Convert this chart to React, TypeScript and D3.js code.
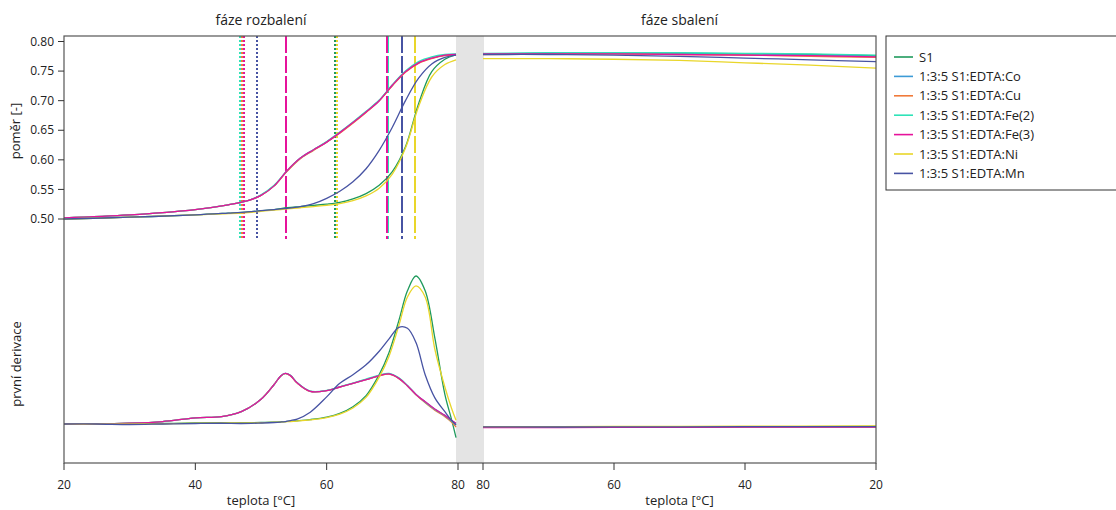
import React from "react";
import * as d3 from "d3";

// heating (fáze rozbalení) – ratio
const heatT = [20, 30, 40, 45, 48, 50, 52, 54, 56, 58, 60, 62, 64, 66, 68, 70, 72, 74, 76, 78, 79.7];
const s1Heat = [0.5, 0.503, 0.507, 0.51, 0.512, 0.514, 0.516, 0.519, 0.521, 0.523, 0.525, 0.528, 0.534, 0.543, 0.557, 0.58, 0.622, 0.695, 0.749, 0.77, 0.778];
const coHeat = [0.502, 0.507, 0.516, 0.524, 0.531, 0.54, 0.556, 0.582, 0.603, 0.617, 0.63, 0.646, 0.663, 0.681, 0.7, 0.726, 0.749, 0.764, 0.772, 0.777, 0.778];
const cuHeat = [0.502, 0.507, 0.516, 0.524, 0.531, 0.54, 0.556, 0.581, 0.602, 0.616, 0.63, 0.645, 0.662, 0.68, 0.7, 0.725, 0.748, 0.763, 0.771, 0.776, 0.777];
const fe2Heat = [0.502, 0.507, 0.516, 0.524, 0.531, 0.541, 0.557, 0.582, 0.603, 0.617, 0.631, 0.647, 0.664, 0.682, 0.701, 0.727, 0.75, 0.766, 0.774, 0.778, 0.779];
const fe3Heat = [0.502, 0.507, 0.516, 0.524, 0.531, 0.54, 0.556, 0.582, 0.603, 0.617, 0.63, 0.646, 0.663, 0.681, 0.7, 0.726, 0.749, 0.764, 0.772, 0.777, 0.778];
const niHeat = [0.5, 0.503, 0.507, 0.509, 0.511, 0.513, 0.515, 0.517, 0.519, 0.521, 0.523, 0.526, 0.531, 0.539, 0.552, 0.576, 0.62, 0.69, 0.74, 0.761, 0.769];
const mnHeat = [0.5, 0.503, 0.507, 0.51, 0.512, 0.514, 0.516, 0.518, 0.521, 0.526, 0.535, 0.547, 0.563, 0.585, 0.616, 0.655, 0.7, 0.738, 0.762, 0.773, 0.777];

// cooling (fáze sbalení) – ratio
const coolT = [80, 70, 60, 50, 40, 30, 20];
const s1Cool = [0.779, 0.78, 0.78, 0.78, 0.779, 0.778, 0.776];
const coCool = [0.779, 0.78, 0.78, 0.779, 0.778, 0.777, 0.775];
const cuCool = [0.778, 0.779, 0.779, 0.778, 0.777, 0.775, 0.773];
const fe2Cool = [0.78, 0.781, 0.781, 0.781, 0.78, 0.779, 0.777];
const fe3Cool = [0.779, 0.779, 0.779, 0.778, 0.777, 0.776, 0.774];
const niCool = [0.771, 0.771, 0.77, 0.768, 0.764, 0.76, 0.755];
const mnCool = [0.778, 0.778, 0.777, 0.775, 0.772, 0.769, 0.766];

// first derivative, heating
const derT = [20, 25, 30, 35, 40, 44, 47, 50, 52, 53, 53.7, 54.5, 55.5, 57.5, 60, 62, 64, 66, 68, 69.5, 71, 72.3, 73.6, 75, 76.5, 78, 79, 79.7];
const s1Der = [0, 0, 0, 0.0002, 0.0004, 0.0005, 0.0005, 0.0006, 0.0008, 0.0009, 0.001, 0.0011, 0.0013, 0.0018, 0.0028, 0.0043, 0.007, 0.0115, 0.02, 0.029, 0.042, 0.054, 0.06, 0.054, 0.0345, 0.012, 0.002, -0.0055];
const coDer = [0, 0, 0.0003, 0.001, 0.0025, 0.003, 0.005, 0.01, 0.016, 0.0195, 0.0205, 0.0196, 0.0167, 0.0132, 0.0135, 0.015, 0.0165, 0.018, 0.0196, 0.0203, 0.0185, 0.0155, 0.012, 0.009, 0.006, 0.0035, 0.0015, 0.0002];
const cuDer = [0, 0, 0.0003, 0.001, 0.0025, 0.003, 0.005, 0.01, 0.016, 0.0194, 0.0204, 0.0195, 0.0166, 0.0132, 0.0135, 0.015, 0.0165, 0.018, 0.0195, 0.0202, 0.0184, 0.0154, 0.0118, 0.0086, 0.0055, 0.003, 0.0008, -0.0012];
const fe2Der = [0, 0, 0.0003, 0.001, 0.0025, 0.003, 0.005, 0.01, 0.016, 0.0195, 0.0205, 0.0197, 0.0168, 0.0133, 0.0136, 0.0151, 0.0166, 0.0182, 0.0198, 0.0205, 0.0187, 0.0156, 0.012, 0.0088, 0.0058, 0.0033, 0.0012, -0.0002];
const fe3Der = [0, 0, 0.0003, 0.001, 0.0025, 0.003, 0.005, 0.01, 0.016, 0.0195, 0.0205, 0.0196, 0.0167, 0.0132, 0.0135, 0.015, 0.0165, 0.018, 0.0196, 0.0203, 0.0185, 0.0155, 0.012, 0.009, 0.006, 0.0035, 0.0015, 0.0003];
const niDer = [0, 0, 0, 0.0001, 0.0003, 0.0004, 0.0004, 0.0005, 0.0007, 0.0008, 0.0009, 0.001, 0.0012, 0.0017, 0.0026, 0.004, 0.0065, 0.0108, 0.019, 0.0275, 0.04, 0.0515, 0.056, 0.0515, 0.03, 0.015, 0.0065, 0.0015];
const mnDer = [0, 0, -0.0002, 0, 0.0002, 0.0003, 0.0002, 0.0004, 0.0006, 0.0008, 0.001, 0.0014, 0.002, 0.0048, 0.011, 0.0165, 0.02, 0.024, 0.0295, 0.0345, 0.0392, 0.0388, 0.033, 0.02, 0.0105, 0.005, 0.0015, -0.0004];

// first derivative, cooling
const coolDerT = [80, 60, 40, 20];
const s1CoolDer = [-0.0012, -0.0012, -0.0011, -0.001];
const coCoolDer = [-0.0012, -0.0012, -0.0011, -0.0011];
const cuCoolDer = [-0.0013, -0.0013, -0.0012, -0.0012];
const fe2CoolDer = [-0.0012, -0.0012, -0.0011, -0.0011];
const fe3CoolDer = [-0.0015, -0.0014, -0.0013, -0.0013];
const niCoolDer = [-0.0011, -0.001, -0.0009, -0.0008];
const mnCoolDer = [-0.0012, -0.0012, -0.0011, -0.0011];

// onset (dotted) and midpoint (dashed) temperatures
const onsetT = [61.2, 46.95, 47.15, 46.8, 47.35, 61.5, 49.35];
const tmT = [[73.5], [53.8, 69.2], [53.8, 69.2], [53.8, 69.4], [53.8, 69.15], [73.5], [71.45]];

const names = ["S1", "1:3:5 S1:EDTA:Co", "1:3:5 S1:EDTA:Cu", "1:3:5 S1:EDTA:Fe(2)", "1:3:5 S1:EDTA:Fe(3)", "1:3:5 S1:EDTA:Ni", "1:3:5 S1:EDTA:Mn"];
const colors = ["#1f9a5c", "#3d9bd6", "#f07a3a", "#2ee3b8", "#e6139b", "#e9d62a", "#4753a3"];

const heatSeries = [s1Heat, coHeat, cuHeat, fe2Heat, fe3Heat, niHeat, mnHeat];
const coolSeries = [s1Cool, coCool, cuCool, fe2Cool, fe3Cool, niCool, mnCool];
const derSeries = [s1Der, coDer, cuDer, fe2Der, fe3Der, niDer, mnDer];
const coolDerSeries = [s1CoolDer, coCoolDer, cuCoolDer, fe2CoolDer, fe3CoolDer, niCoolDer, mnCoolDer];

const ratioTicks = [0.5, 0.55, 0.6, 0.65, 0.7, 0.75, 0.8];
const tempTicks = [20, 40, 60, 80];

const W = 1116;
const H = 510;
const font = "'Open Sans', 'DejaVu Sans', sans-serif";

export default function App() {
  const frame = { left: 64, right: 876, top: 36, bottom: 463 };
  const xHeat = d3.scaleLinear().domain([20, 80]).range([64, 458]);
  const xCool = d3.scaleLinear().domain([80, 20]).range([483, 876]);
  const yRatio = d3.scaleLinear().domain([0.5, 0.8]).range([219, 41.5]);
  const yDer = d3.scaleLinear().domain([0, 0.06]).range([424, 276]);
  const vlineBottom = yRatio(0.466);

  const mk = (x: d3.ScaleLinear<number, number>, y: d3.ScaleLinear<number, number>) =>
    d3
      .line<[number, number]>()
      .x((d) => x(d[0]))
      .y((d) => y(d[1]))
      .curve(d3.curveCatmullRom.alpha(0.5));

  const heatLine = mk(xHeat, yRatio);
  const coolLine = mk(xCool, yRatio);
  const derLine = mk(xHeat, yDer);
  const coolDerLine = mk(xCool, yDer);

  const zip = (t: number[], v: number[]) => t.map((d, i) => [d, v[i]] as [number, number]);

  const bandX0 = xHeat(79.7);
  const bandX1 = xCool(80) + 1;

  return (
    <svg width={W} height={H} style={{ position: "absolute", left: 0, top: 0, background: "#fff" }} fontFamily={font}>
      <rect x={bandX0} y={frame.top} width={bandX1 - bandX0} height={frame.bottom - frame.top} fill="#e4e4e4" />

      {/* vertical markers */}
      <g shapeRendering="crispEdges">
        {onsetT.map((t, i) => (
          <line key={"on" + i} x1={xHeat(t)} x2={xHeat(t)} y1={frame.top} y2={vlineBottom}
            stroke={colors[i]} strokeWidth={2} strokeDasharray="2,2" />
        ))}
        {tmT.map((arr, i) =>
          arr.map((t, j) => (
            <line key={"tm" + i + "_" + j} x1={xHeat(t)} x2={xHeat(t)} y1={frame.top} y2={vlineBottom}
              stroke={colors[i]} strokeWidth={2} strokeDasharray="17,3" />
          ))
        )}
      </g>

      {/* curves */}
      <g fill="none" strokeWidth={1.3}>
        {heatSeries.map((s, i) => (
          <path key={"h" + i} d={heatLine(zip(heatT, s)) || ""} stroke={colors[i]} />
        ))}
        {coolSeries.map((s, i) => (
          <path key={"c" + i} d={coolLine(zip(coolT, s)) || ""} stroke={colors[i]} />
        ))}
        {derSeries.map((s, i) => (
          <path key={"d" + i} d={derLine(zip(derT, s)) || ""} stroke={colors[i]} />
        ))}
        {coolDerSeries.map((s, i) => (
          <path key={"cd" + i} d={coolDerLine(zip(coolDerT, s)) || ""} stroke={colors[i]} />
        ))}
      </g>

      {/* frame */}
      <rect x={frame.left} y={frame.top} width={frame.right - frame.left} height={frame.bottom - frame.top}
        fill="none" stroke="#555" strokeWidth={1.2} />

      {/* y axis ratio */}
      {ratioTicks.map((v) => (
        <g key={"yt" + v}>
          <line x1={58} x2={frame.left} y1={yRatio(v)} y2={yRatio(v)} stroke="#333" />
          <text x={54} y={yRatio(v)} dy="0.35em" textAnchor="end" fontSize={12} fill="#222">
            {d3.format(".2f")(v)}
          </text>
        </g>
      ))}

      {/* x axes */}
      {tempTicks.map((v) => (
        <g key={"xh" + v}>
          <line x1={xHeat(v)} x2={xHeat(v)} y1={frame.bottom} y2={frame.bottom + 7} stroke="#333" />
          <text x={xHeat(v)} y={489} textAnchor="middle" fontSize={12} fill="#222">{v}</text>
        </g>
      ))}
      {tempTicks.map((v) => (
        <g key={"xc" + v}>
          <line x1={xCool(v)} x2={xCool(v)} y1={frame.bottom} y2={frame.bottom + 7} stroke="#333" />
          <text x={xCool(v)} y={489} textAnchor="middle" fontSize={12} fill="#222">{v}</text>
        </g>
      ))}

      <text x={(xHeat(20) + xHeat(80)) / 2} y={505} textAnchor="middle" fontSize={13} fill="#222">teplota [°C]</text>
      <text x={(xCool(20) + xCool(80)) / 2} y={505} textAnchor="middle" fontSize={13} fill="#222">teplota [°C]</text>
      <text x={(xHeat(20) + xHeat(80)) / 2} y={25} textAnchor="middle" fontSize={14} fill="#222">fáze rozbalení</text>
      <text x={(xCool(20) + xCool(80)) / 2} y={25} textAnchor="middle" fontSize={14} fill="#222">fáze sbalení</text>

      <text transform="translate(20,131) rotate(-90)" textAnchor="middle" fontSize={13} fill="#222">poměr [-]</text>
      <text transform="translate(21,364) rotate(-90)" textAnchor="middle" fontSize={13} fill="#222">první derivace</text>

      {/* legend */}
      <rect x={886} y={36} width={240} height={154} fill="#fff" stroke="#333" strokeWidth={1} />
      {names.map((n, i) => (
        <g key={"lg" + i} transform={`translate(0,${57 + i * 19.4})`}>
          <line x1={894} x2={913} y1={0} y2={0} stroke={colors[i]} strokeWidth={1.6} />
          <text x={919} y={0} dy="0.35em" fontSize={13} fill="#222">{n}</text>
        </g>
      ))}
    </svg>
  );
}
